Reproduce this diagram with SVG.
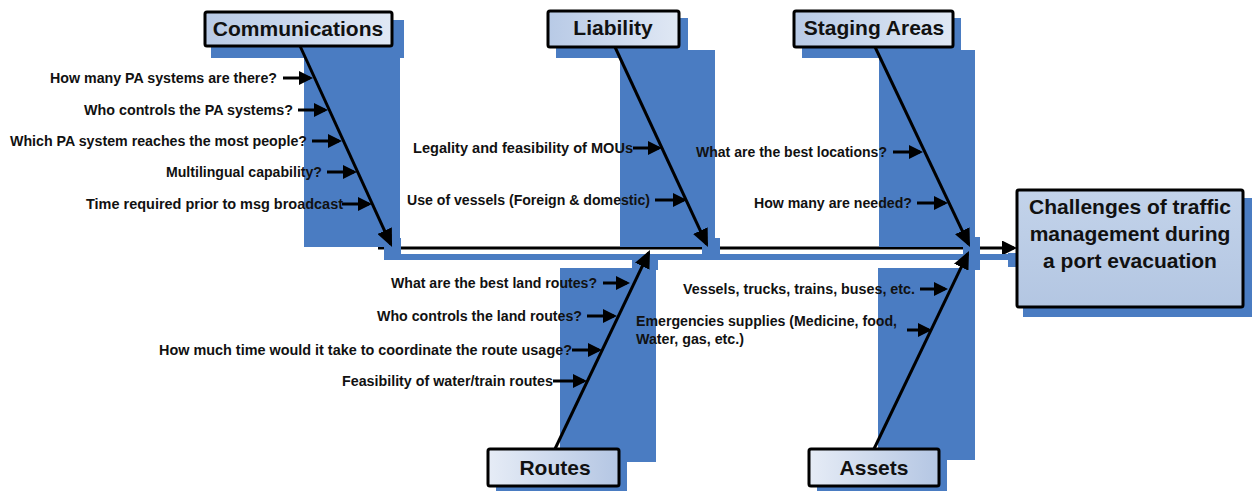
<svg xmlns="http://www.w3.org/2000/svg" width="1253" height="491" viewBox="0 0 1253 491">
  <defs>
    <style>
      .shadow { fill: #4a7cc2; }
      .bone { stroke: #000; stroke-width: 3; fill: none; marker-end: url(#ahBone); }
      .twig { stroke: #000; stroke-width: 3; fill: none; marker-end: url(#ahTwig); }
      .spine { stroke: #000; stroke-width: 3; fill: none; marker-end: url(#ahSpine); }
      .box { stroke: #000; stroke-width: 3; }
      .lbl { font-family: "Liberation Sans", Arial, sans-serif; font-weight: bold; font-size: 14px; fill: #111; }
      .hdr { font-family: "Liberation Sans", Arial, sans-serif; font-weight: bold; font-size: 21px; fill: #111; text-anchor: middle; }
    </style>
    <linearGradient id="gTop" x1="0" y1="0" x2="1" y2="0">
      <stop offset="0" stop-color="#b8cae6"/>
      <stop offset="1" stop-color="#e0e8f4"/>
    </linearGradient>
    <linearGradient id="gBottom" x1="0" y1="0" x2="1" y2="0">
      <stop offset="0" stop-color="#e6ecf6"/>
      <stop offset="1" stop-color="#b4c6e3"/>
    </linearGradient>
    <linearGradient id="gMain" x1="0" y1="0" x2="0" y2="1">
      <stop offset="0" stop-color="#c3d3ea"/>
      <stop offset="1" stop-color="#b3c6e2"/>
    </linearGradient>
    <marker id="ahBone" markerUnits="userSpaceOnUse" viewBox="0 0 18 16" markerWidth="18" markerHeight="16" refX="15" refY="8" orient="auto">
      <path d="M0,0 L18,8 L0,16 z" fill="#000"/>
    </marker>
    <marker id="ahTwig" markerUnits="userSpaceOnUse" viewBox="0 0 14 14" markerWidth="14" markerHeight="14" refX="11" refY="7" orient="auto">
      <path d="M0,0 L14,7 L0,14 z" fill="#000"/>
    </marker>
    <marker id="ahSpine" markerUnits="userSpaceOnUse" viewBox="0 0 15 15" markerWidth="15" markerHeight="15" refX="12" refY="7.5" orient="auto">
      <path d="M0,0 L15,7.5 L0,15 z" fill="#000"/>
    </marker>
  </defs>

  <rect width="1253" height="491" fill="#fff"/>

  <!-- spine line (sits under the bone shadows) -->
  <g id="spine-line">
    <line class="spine" x1="378" y1="248" x2="1014" y2="248"/>
  </g>

  <!-- drop shadows -->
  <g id="shadows">
    <rect class="shadow" x="385" y="254" width="625" height="6"/>
    <rect class="shadow" x="1008" y="253" width="10" height="14"/>
    <rect class="shadow" x="1023" y="198" width="229" height="119"/>

    <rect class="shadow" x="211" y="20" width="193" height="38"/>
    <rect class="shadow" x="304" y="56" width="96" height="191"/>
    <rect class="shadow" x="384" y="238" width="17" height="22"/>

    <rect class="shadow" x="556" y="18" width="132" height="40"/>
    <rect class="shadow" x="620" y="50" width="95" height="197"/>
    <rect class="shadow" x="702" y="238" width="18" height="22"/>

    <rect class="shadow" x="802" y="18" width="159" height="40"/>
    <rect class="shadow" x="879" y="50" width="96" height="197"/>
    <rect class="shadow" x="963" y="237" width="17" height="23"/>

    <rect class="shadow" x="560" y="268" width="96" height="194"/>
    <rect class="shadow" x="632" y="254" width="26" height="16"/>
    <rect class="shadow" x="496" y="457" width="131" height="34"/>

    <rect class="shadow" x="878" y="268" width="97" height="192"/>
    <rect class="shadow" x="963" y="254" width="17" height="16"/>
    <rect class="shadow" x="817" y="457" width="130" height="34"/>
  </g>

  <!-- bones and cause arrows -->
  <g id="connectors">
    <line class="bone" x1="297.3" y1="40" x2="390.8" y2="244.3"/>
    <line class="bone" x1="612.2" y1="41" x2="706.7" y2="244.3"/>
    <line class="bone" x1="872.2" y1="41" x2="968.7" y2="244.3"/>
    <line class="bone" x1="552.1" y1="455" x2="648.7" y2="252.7"/>
    <line class="bone" x1="871.1" y1="455" x2="967.7" y2="253.7"/>

    <line class="twig" x1="283" y1="78" x2="310" y2="78"/>
    <line class="twig" x1="298" y1="110" x2="325" y2="110"/>
    <line class="twig" x1="312" y1="141" x2="339" y2="141"/>
    <line class="twig" x1="327" y1="172" x2="354" y2="172"/>
    <line class="twig" x1="342" y1="204" x2="369" y2="204"/>

    <line class="twig" x1="633" y1="148" x2="659" y2="148"/>
    <line class="twig" x1="655" y1="200" x2="684" y2="200"/>

    <line class="twig" x1="893" y1="152" x2="920" y2="152"/>
    <line class="twig" x1="917" y1="203" x2="945" y2="203"/>

    <line class="twig" x1="603" y1="283" x2="627" y2="283"/>
    <line class="twig" x1="587" y1="316" x2="614" y2="316"/>
    <line class="twig" x1="572" y1="350" x2="599" y2="350"/>
    <line class="twig" x1="553" y1="381" x2="584" y2="381"/>

    <line class="twig" x1="920" y1="289" x2="945" y2="289"/>
    <line class="twig" x1="907" y1="330" x2="929" y2="330"/>
  </g>

  <!-- effect -->
  <g id="effect">
    <rect class="box" x="1017" y="190" width="226" height="117" rx="2" fill="url(#gMain)"/>
    <text class="hdr" x="1130" y="214">Challenges of traffic</text>
    <text class="hdr" x="1130" y="241">management during</text>
    <text class="hdr" x="1130" y="268">a port evacuation</text>
  </g>

  <!-- category: Communications -->
  <g id="communications">
    <rect class="box" x="205" y="12" width="187" height="34" rx="2" fill="url(#gTop)"/>
    <text class="hdr" x="298" y="36">Communications</text>
    <text class="lbl" x="50" y="83" textLength="227" lengthAdjust="spacingAndGlyphs">How many PA systems are there?</text>
    <text class="lbl" x="84" y="115" textLength="209" lengthAdjust="spacingAndGlyphs">Who controls the PA systems?</text>
    <text class="lbl" x="10" y="146" textLength="297" lengthAdjust="spacingAndGlyphs">Which PA system reaches the most people?</text>
    <text class="lbl" x="166" y="177" textLength="156" lengthAdjust="spacingAndGlyphs">Multilingual capability?</text>
    <text class="lbl" x="86" y="209" textLength="257" lengthAdjust="spacingAndGlyphs">Time required prior to msg broadcast</text>
  </g>

  <!-- category: Liability -->
  <g id="liability">
    <rect class="box" x="548" y="11" width="131" height="36" rx="2" fill="url(#gTop)"/>
    <text class="hdr" x="613" y="35">Liability</text>
    <text class="lbl" x="413" y="153" textLength="220" lengthAdjust="spacingAndGlyphs">Legality and feasibility of MOUs</text>
    <text class="lbl" x="407" y="205" textLength="243" lengthAdjust="spacingAndGlyphs">Use of vessels (Foreign &amp; domestic)</text>
  </g>

  <!-- category: Staging Areas -->
  <g id="staging-areas">
    <rect class="box" x="794" y="11" width="159" height="36" rx="2" fill="url(#gTop)"/>
    <text class="hdr" x="874" y="35">Staging Areas</text>
    <text class="lbl" x="696" y="157" textLength="191" lengthAdjust="spacingAndGlyphs">What are the best locations?</text>
    <text class="lbl" x="754" y="208" textLength="158" lengthAdjust="spacingAndGlyphs">How many are needed?</text>
  </g>

  <!-- category: Routes -->
  <g id="routes">
    <rect class="box" x="488" y="449" width="131" height="37" rx="2" fill="url(#gBottom)"/>
    <text class="hdr" x="555" y="475">Routes</text>
    <text class="lbl" x="391" y="288" textLength="206" lengthAdjust="spacingAndGlyphs">What are the best land routes?</text>
    <text class="lbl" x="377" y="321" textLength="205" lengthAdjust="spacingAndGlyphs">Who controls the land routes?</text>
    <text class="lbl" x="159" y="355" textLength="413" lengthAdjust="spacingAndGlyphs">How much time would it take to coordinate the route usage?</text>
    <text class="lbl" x="342" y="386" textLength="211" lengthAdjust="spacingAndGlyphs">Feasibility of water/train routes</text>
  </g>

  <!-- category: Assets -->
  <g id="assets">
    <rect class="box" x="809" y="449" width="130" height="37" rx="2" fill="url(#gBottom)"/>
    <text class="hdr" x="874" y="475">Assets</text>
    <text class="lbl" x="683" y="294" textLength="232" lengthAdjust="spacingAndGlyphs">Vessels, trucks, trains, buses, etc.</text>
    <text class="lbl" x="636" y="326" textLength="261" lengthAdjust="spacingAndGlyphs">Emergencies supplies (Medicine, food,</text>
    <text class="lbl" x="636" y="344" textLength="108" lengthAdjust="spacingAndGlyphs">Water, gas, etc.)</text>
  </g>
</svg>
